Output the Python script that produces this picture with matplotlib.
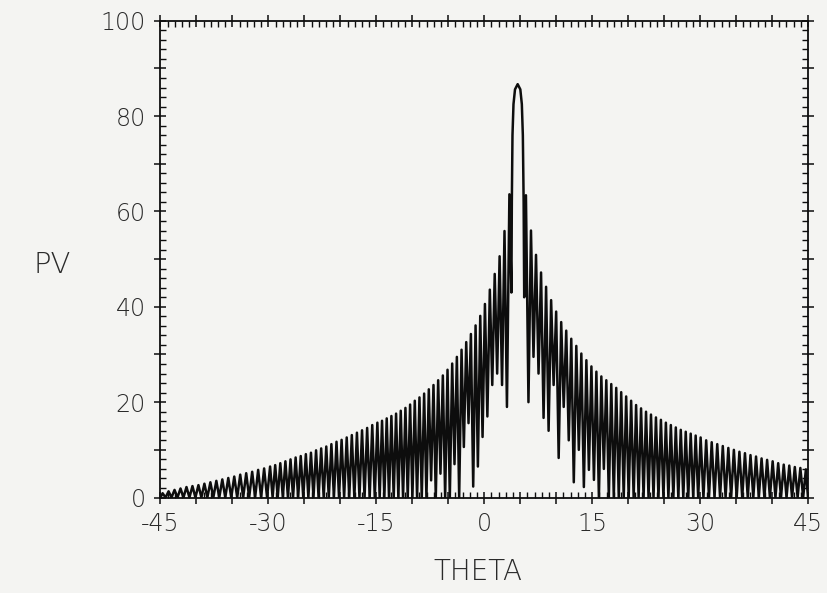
"""Recreate the PV vs THETA array-pattern plot."""

import matplotlib

matplotlib.use("Agg")
import matplotlib.pyplot as plt
from matplotlib.ticker import FuncFormatter, MultipleLocator

# lobe maxima (theta in degrees, PV)
peak_theta = [
    -44.70, -43.87, -43.04, -42.21, -41.38, -40.55, -39.72, -38.89, -38.06, -37.23,
    -36.40, -35.57, -34.74, -33.91, -33.08, -32.25, -31.42, -30.59, -29.76,
    -29.05, -28.34, -27.63, -26.92, -26.21, -25.50, -24.79, -24.08, -23.37, -22.66,
    -21.95, -21.24, -20.53, -19.82, -19.11, -18.40, -17.69, -16.98, -16.27, -15.56,
    -14.85,
    -14.20, -13.55, -12.90, -12.25, -11.60, -10.95, -10.30, -9.65, -9.00, -8.35,
    -7.70, -7.05, -6.40, -5.75, -5.10, -4.45, -3.80, -3.15, -2.50, -1.85,
    -1.20, -0.55, 0.10,
    0.78, 1.46, 2.14, 2.82, 3.50, 4.65, 5.80,
    6.50, 7.20, 7.90, 8.60, 9.30, 10.00, 10.70, 11.40, 12.10, 12.80, 13.50, 14.20, 14.90,
    15.59, 16.28, 16.97, 17.66, 18.35, 19.04, 19.73, 20.42, 21.11, 21.80,
    22.49, 23.18, 23.87, 24.56, 25.25, 25.94, 26.63, 27.32, 28.01, 28.70, 29.39, 30.08,
    30.85, 31.62, 32.39, 33.16, 33.93, 34.70, 35.47, 36.24, 37.01, 37.78,
    38.55, 39.32, 40.09, 40.86, 41.63, 42.40, 43.17, 43.94, 44.71,
]
peak_pv = [
    0.9, 1.3, 1.6, 1.9, 2.2, 2.4, 2.6, 2.9, 3.2, 3.5,
    3.8, 4.1, 4.4, 4.8, 5.1, 5.4, 5.8, 6.1, 6.5,
    6.8, 7.2, 7.6, 8.0, 8.4, 8.7, 9.1, 9.4, 9.9, 10.3,
    10.7, 11.2, 11.7, 12.1, 12.6, 13.1, 13.6, 14.1, 14.6, 15.2,
    15.7,
    16.1, 16.6, 17.1, 17.6, 18.2, 18.8, 19.5, 20.3, 21.0, 21.8,
    22.7, 23.6, 24.6, 25.6, 26.8, 28.1, 29.5, 31.0, 32.6, 34.3,
    36.1, 38.1, 40.6,
    43.6, 46.9, 50.6, 55.9, 63.6, 86.7, 63.4,
    56.0, 50.9, 47.2, 44.2, 41.4, 39.0, 36.8, 35.0, 33.3, 31.8, 30.2, 28.8, 27.5,
    26.4, 25.4, 24.6, 23.8, 23.0, 22.1, 21.2, 20.3, 19.4, 18.7,
    18.0, 17.4, 16.8, 16.3, 15.7, 15.2, 14.7, 14.2, 13.8, 13.4, 13.0, 12.6,
    12.0, 11.6, 11.2, 10.8, 10.4, 10.0, 9.6, 9.3, 8.9, 8.6,
    8.2, 7.9, 7.6, 7.2, 6.9, 6.7, 6.4, 6.2, 5.9,
]

# shoulders of the main beam
beam_theta = [3.84, 3.93, 4.07, 4.28, 5.02, 5.23, 5.37, 5.48]
beam_pv = [62.0, 76.0, 82.5, 85.6, 85.6, 82.5, 76.0, 62.0]

# minima between lobes
null_theta = [
    -45.00,
    -44.29, -43.46, -42.63, -41.80, -40.97, -40.14, -39.31, -38.48, -37.65, -36.82,
    -35.99, -35.16, -34.33, -33.50, -32.67, -31.84, -31.01, -30.18,
    -29.41, -28.70, -27.99, -27.28, -26.57, -25.86, -25.15, -24.44, -23.73, -23.02,
    -22.31, -21.60, -20.89, -20.18, -19.47, -18.76, -18.05, -17.34, -16.63, -15.92,
    -15.21,
    -14.53, -13.88, -13.23, -12.58, -11.93, -11.28, -10.63, -9.98, -9.33, -8.68,
    -8.03, -7.38, -6.73, -6.08, -5.43, -4.78, -4.13, -3.48, -2.83, -2.18,
    -1.53, -0.88, -0.23,
    0.44, 1.12, 1.80, 2.48, 3.16, 3.78, 5.56,
    6.15, 6.85, 7.55, 8.25, 8.95, 9.65, 10.35, 11.05, 11.75, 12.45, 13.15, 13.85, 14.55,
    15.25, 15.94, 16.63, 17.32, 18.01, 18.70, 19.39, 20.08, 20.77, 21.46,
    22.15, 22.84, 23.53, 24.22, 24.91, 25.60, 26.29, 26.98, 27.67, 28.36, 29.05, 29.74,
    30.47, 31.24, 32.01, 32.78, 33.55, 34.32, 35.09, 35.86, 36.63, 37.40,
    38.17, 38.94, 39.71, 40.48, 41.25, 42.02, 42.79, 43.56, 44.33,
    45.00,
]
null_pv = [
    0.0,
    0.0, 0.0, 0.0, 0.0, 0.0, 0.0, 0.0, 0.0, 0.0, 0.0,
    0.0, 0.0, 0.0, 0.0, 0.0, 0.0, 0.0, 0.0,
    0.0, 0.0, 0.0, 0.0, 0.0, 0.0, 0.0, 0.0, 0.0, 0.0,
    0.0, 0.0, 0.0, 0.0, 0.0, 0.0, 0.0, 0.0, 0.0, 0.0,
    0.0,
    0.0, 0.0, 0.0, 0.0, 0.0, 0.0, 0.0, 0.0, 0.0, 0.0,
    0.0, 3.6, 0.0, 5.0, 0.0, 0.0, 7.0, 0.0, 10.6, 15.6,
    2.3, 6.5, 12.7,
    17.0, 23.6, 26.0, 23.6, 19.0, 43.0, 42.0,
    20.0, 29.5, 26.0, 16.7, 14.0, 23.6, 8.3, 19.0, 12.0, 3.2, 10.0, 2.2, 5.8,
    3.7, 0.0, 6.0, 0.0, 0.0, 0.0, 0.0, 0.0, 0.0, 0.0,
    0.0, 0.0, 0.0, 0.0, 0.0, 0.0, 0.0, 0.0, 0.0, 0.0, 0.0, 0.0,
    0.0, 0.0, 0.0, 0.0, 0.0, 0.0, 0.0, 0.0, 0.0, 0.0,
    0.0, 0.0, 0.0, 0.0, 0.0, 0.0, 0.0, 0.0, 0.0,
    0.0,
]

x_labels = [-45, -30, -15, 0, 15, 30, 45]
y_labels = [0, 20, 40, 60, 80, 100]

PAPER = "#f4f4f2"
INK = "#0d0d0d"


def main() -> None:
    pts = sorted(zip(peak_theta + beam_theta + null_theta,
                     peak_pv + beam_pv + null_pv))
    theta = [p[0] for p in pts]
    pv = [p[1] for p in pts]

    fig = plt.figure(figsize=(8.27, 5.93), dpi=100, facecolor=PAPER)
    ax = fig.add_axes([0.194, 0.161, 0.783, 0.804], facecolor=PAPER)
    ax.plot(theta, pv, color=INK, lw=1.8, solid_joinstyle="round")

    ax.set_xlim(-45, 45)
    ax.set_ylim(0, 100)

    ax.xaxis.set_major_locator(MultipleLocator(5))
    ax.xaxis.set_minor_locator(MultipleLocator(1))
    ax.yaxis.set_major_locator(MultipleLocator(10))
    ax.yaxis.set_minor_locator(MultipleLocator(2))
    ax.xaxis.set_major_formatter(
        FuncFormatter(lambda v, _: f"{v:.0f}" if round(v) in x_labels else "")
    )
    ax.yaxis.set_major_formatter(
        FuncFormatter(lambda v, _: f"{v:.0f}" if round(v) in y_labels else "")
    )
    ax.tick_params(which="major", direction="inout", length=9, width=1.1,
                   color=INK, top=True, right=True, labelsize=17,
                   labelcolor="#2a2a2a")
    ax.tick_params(which="minor", direction="in", length=4, width=1.0,
                   color=INK, top=True, right=True)
    ax.tick_params(axis="x", which="major", pad=6)
    ax.tick_params(axis="y", which="major", pad=6)
    for spine in ax.spines.values():
        spine.set_color(INK)
        spine.set_linewidth(1.3)

    for lab in ax.get_xticklabels() + ax.get_yticklabels():
        lab.set_fontweight("light")

    fig.text(0.063, 0.553, "PV", fontsize=21, color="#2a2a2a",
             ha="center", va="center", fontweight="light")
    fig.text(0.578, 0.035, "THETA", fontsize=20, color="#2a2a2a",
             ha="center", va="center", fontweight="light")

    fig.savefig("out.png", dpi=100, facecolor=PAPER)
    plt.close(fig)


if __name__ == "__main__":
    main()
